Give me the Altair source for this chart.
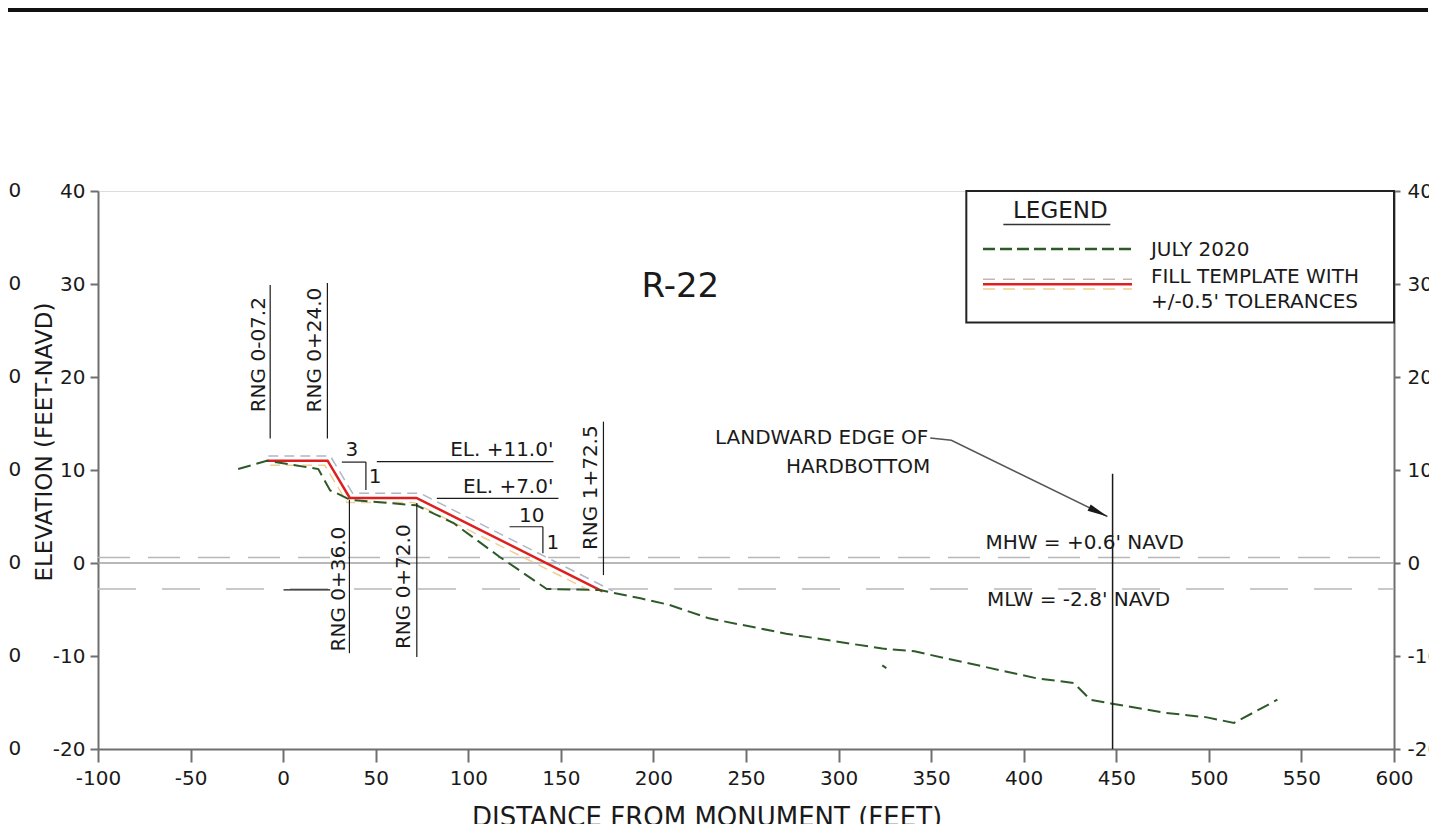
import altair as alt
import pandas as pd

# ---------------- data ----------------
X_DOMAIN = [-100, 600]
Y_DOMAIN = [-20, 40]
X_TICKS = list(range(-100, 601, 50))
Y_TICKS = list(range(-20, 41, 10))

# July 2020 survey profile (distance ft, elevation ft)
survey_x = [-24.3, -8.8, 19.0, 25.4, 28.0, 36.0, 72.0, 92.0, 117.0, 142.4, 171.0, 193.0,
            208.5, 230.0, 271.7, 323.6, 341.0, 407.0, 427.0, 436.0, 447.0, 476.0, 499.0,
            513.6, 537.0]
survey_y = [10.1, 11.0, 10.1, 7.8, 7.6, 6.8, 6.2, 4.3, 0.65, -2.8, -2.9, -3.8,
            -4.5, -5.95, -7.6, -9.2, -9.5, -12.4, -12.9, -14.7, -15.1, -16.1, -16.6,
            -17.2, -14.7]
stray_x = [323.6, 325.8]
stray_y = [-11.0, -11.3]

# Fill template and +/-0.5' tolerances
template_x = [-8.8, 24.0, 36.0, 72.0, 172.5]
template_y = [11.0, 11.0, 7.0, 7.0, -3.05]
upper_x = [-8.0, 25.5, 37.5, 74.0, 178.0]
upper_y = [11.5, 11.5, 7.5, 7.5, -3.0]
lower_x = [-7.0, 22.5, 34.5, 70.5, 167.0]
lower_y = [10.5, 10.5, 6.5, 6.5, -3.1]

# Tidal datums
datum_zero = 0.0
datum_mhw = 0.6
datum_mlw = -2.8

# Range stations (vertical leader lines + rotated labels)
rng_labels = ["RNG 0-07.2", "RNG 0+24.0", "RNG 0+36.0", "RNG 0+72.0", "RNG 1+72.5"]
rng_x = [-7.0, 23.9, 35.8, 72.2, 173.0]
rng_top = [29.9, 30.1, 6.8, 6.45, 15.2]
rng_bot = [13.4, 13.4, -9.7, -10.1, -1.3]
rng_label_x = [-13.3, 17.3, 29.9, 65.5, 166.4]
rng_label_y = [22.4, 22.9, -2.8, -2.55, 8.1]

# Thin annotation segments
seg_x1 = [31.7, 44.7, 50.6, 83.0, 122.3, 140.3, 0.2]
seg_y1 = [10.85, 10.85, 10.9, 6.95, 3.9, 3.9, -2.9]
seg_x2 = [44.7, 44.7, 146.0, 148.7, 140.3, 140.3, 25.4]
seg_y2 = [10.85, 7.85, 10.9, 6.95, 3.9, 1.05, -2.9]

# Hardbottom
hb_x = 448.0
hb_top = 9.6
hb_bot = -20.0
leader_x = [349.5, 360.9, 445.2]
leader_y = [13.44, 13.2, 5.0]
arrow_x = [440.3]
arrow_y = [5.47]

# Text annotations
center_text = ["3", "1", "10", "1"]
center_x = [37.1, 49.7, 134.3, 145.7]
center_y = [12.15, 9.2, 5.05, 2.2]
right_text = ["EL. +11.0'", "EL. +7.0'", "LANDWARD EDGE OF", "HARDBOTTOM"]
right_x = [146.0, 146.0, 348.5, 349.5]
right_y = [12.15, 8.2, 13.44, 10.3]
left_text = ["MHW = +0.6' NAVD", "MLW = -2.8' NAVD"]
left_x = [379.3, 380.2]
left_y = [2.18, -3.98]

title_text = "R-22"
title_x = 214.5
title_y = 29.7

# Legend
legend_box = [369.0, 25.85, 600.0, 40.0]
legend_title = "LEGEND"
legend_title_xy = [419.8, 37.8]
legend_underline = [389.0, 446.8, 36.4]
legend_labels = ["JULY 2020", "FILL TEMPLATE WITH", "+/-0.5' TOLERANCES"]
legend_label_x = 468.7
legend_label_y = [33.66, 30.8, 28.1]
legend_sample_x = [378.0, 458.5]
legend_green_y = 33.76
legend_red_y = 29.97
legend_up_y = 30.5
legend_lo_y = 29.46

# Axis titles and clipped neighbouring axis labels
ytitle = "ELEVATION (FEET-NAVD)"
ytitle_xy = [-128.6, 13.0]
xtitle = "DISTANCE FROM MONUMENT (FEET)"
xtitle_xy = [229.0, -26.0]
clipped_label_x = -141.5

# ---------------- styling ----------------
FONT = "DejaVu Sans"
INK = "#1a1a1a"
GREEN = "#2e5a2a"
RED = "#dd1f1f"
TOL_UP = "#aeb6c8"
TOL_LO = "#f0cf94"
DATUM = "#b8b8b8"
FRAME = "#6f6f6f"

xs = alt.Scale(domain=X_DOMAIN, nice=False, zero=False)
ys = alt.Scale(domain=Y_DOMAIN, nice=False, zero=False)
LABEL_EXPR = "'' + datum.value"


def X(f="x", axis=None):
    if axis is None:
        return alt.X(f"{f}:Q", scale=xs)
    return alt.X(f"{f}:Q", scale=xs, axis=axis)


def Y(f="y", axis=None):
    return alt.Y(f"{f}:Q", scale=ys, axis=axis)


def line_df(xv, yv):
    return pd.DataFrame({"x": xv, "y": yv, "i": list(range(len(xv)))})


def axis(orient, tick, pad, vals):
    return alt.Axis(values=vals, title=None, grid=False, orient=orient, labelFont=FONT,
                    labelFontSize=20, labelColor=INK, tickSize=tick, tickColor=FRAME,
                    tickWidth=2, domainColor=FRAME, domainWidth=2, labelPadding=pad,
                    labelFlush=False, labelOverlap=False, labelExpr=LABEL_EXPR)


layers = []

# invisible axis carriers
frame_df = pd.DataFrame({"x": X_DOMAIN, "y": Y_DOMAIN})
layers.append(alt.Chart(frame_df).mark_point(opacity=0)
              .encode(x=X("x", axis("bottom", 13, 6, X_TICKS)),
                      y=Y("y", axis("left", 8, 5, Y_TICKS))))
layers.append(alt.Chart(frame_df).mark_point(opacity=0)
              .encode(x=X("x"), y=Y("y", axis("right", 6, 7, Y_TICKS))))

# datum lines
layers.append(alt.Chart(pd.DataFrame({"y": [datum_zero]}))
              .mark_rule(color="#a0a0a0", strokeWidth=1.5)
              .encode(y=Y(), x=alt.value(0), x2=alt.value(1296)))
layers.append(alt.Chart(pd.DataFrame({"y": [datum_mhw]}))
              .mark_rule(color=DATUM, strokeWidth=1.5, strokeDash=[32, 18])
              .encode(y=Y(), x=alt.value(0), x2=alt.value(1296)))
layers.append(alt.Chart(pd.DataFrame({"y": [datum_mlw]}))
              .mark_rule(color=DATUM, strokeWidth=1.5, strokeDash=[38, 26])
              .encode(y=Y(), x=alt.value(0), x2=alt.value(1296)))

# tolerance lines
layers.append(alt.Chart(line_df(upper_x, upper_y))
              .mark_line(color=TOL_UP, strokeWidth=1.5, strokeDash=[10, 6])
              .encode(x=X(), y=Y(), order="i:Q"))
layers.append(alt.Chart(line_df(lower_x, lower_y))
              .mark_line(color=TOL_LO, strokeWidth=1.5, strokeDash=[10, 6])
              .encode(x=X(), y=Y(), order="i:Q"))
# fill template
layers.append(alt.Chart(line_df(template_x, template_y)).mark_line(color=RED, strokeWidth=2.5)
              .encode(x=X(), y=Y(), order="i:Q"))
# survey
layers.append(alt.Chart(line_df(survey_x, survey_y))
              .mark_line(color=GREEN, strokeWidth=2, strokeDash=[13, 6])
              .encode(x=X(), y=Y(), order="i:Q"))
layers.append(alt.Chart(line_df(stray_x, stray_y)).mark_line(color=GREEN, strokeWidth=2)
              .encode(x=X(), y=Y(), order="i:Q"))

# range station lines
rng = pd.DataFrame({"x": rng_x, "y": rng_top, "y2": rng_bot, "label": rng_labels,
                    "lx": rng_label_x, "ly": rng_label_y})
layers.append(alt.Chart(rng).mark_rule(color=INK, strokeWidth=1.2)
              .encode(x=X(), y=Y(), y2="y2:Q"))
layers.append(alt.Chart(rng).mark_text(font=FONT, fontSize=20, color=INK, angle=270,
                                       align="center", baseline="middle")
              .encode(x=X("lx"), y=Y("ly"), text="label:N"))

# thin segments
segs = pd.DataFrame({"x": seg_x1, "y": seg_y1, "x2": seg_x2, "y2": seg_y2})
layers.append(alt.Chart(segs).mark_rule(color=INK, strokeWidth=1.2)
              .encode(x=X(), y=Y(), x2="x2:Q", y2="y2:Q"))

# hardbottom line and leader
hb = pd.DataFrame({"x": [hb_x], "y": [hb_top], "y2": [hb_bot]})
layers.append(alt.Chart(hb).mark_rule(color=INK, strokeWidth=1.5)
              .encode(x=X(), y=Y(), y2="y2:Q"))
layers.append(alt.Chart(line_df(leader_x, leader_y)).mark_line(color="#555555", strokeWidth=1.5)
              .encode(x=X(), y=Y(), order="i:Q"))
layers.append(alt.Chart(pd.DataFrame({"x": arrow_x, "y": arrow_y}))
              .mark_point(shape="M 1 0 L -1 -0.35 L -1 0.35 Z", size=420, filled=True,
                          color=INK, opacity=1, angle=26)
              .encode(x=X(), y=Y()))

# texts
layers.append(alt.Chart(pd.DataFrame({"x": center_x, "y": center_y, "t": center_text}))
              .mark_text(font=FONT, fontSize=20, color=INK, align="center", baseline="middle")
              .encode(x=X(), y=Y(), text="t:N"))
layers.append(alt.Chart(pd.DataFrame({"x": right_x, "y": right_y, "t": right_text}))
              .mark_text(font=FONT, fontSize=20, color=INK, align="right", baseline="middle")
              .encode(x=X(), y=Y(), text="t:N"))
layers.append(alt.Chart(pd.DataFrame({"x": left_x, "y": left_y, "t": left_text}))
              .mark_text(font=FONT, fontSize=20, color=INK, align="left", baseline="middle")
              .encode(x=X(), y=Y(), text="t:N"))
layers.append(alt.Chart(pd.DataFrame({"x": [title_x], "y": [title_y], "t": [title_text]}))
              .mark_text(font=FONT, fontSize=34, color=INK, align="center", baseline="middle")
              .encode(x=X(), y=Y(), text="t:N"))

# legend box
lb = pd.DataFrame({"x": [legend_box[0]], "y": [legend_box[1]],
                   "x2": [legend_box[2]], "y2": [legend_box[3]]})
layers.append(alt.Chart(lb).mark_rect(fill="white", stroke="#222222", strokeWidth=2)
              .encode(x=X(), y=Y(), x2="x2:Q", y2="y2:Q"))
layers.append(alt.Chart(pd.DataFrame({"x": [legend_title_xy[0]], "y": [legend_title_xy[1]],
                                      "t": [legend_title]}))
              .mark_text(font=FONT, fontSize=23, color=INK, align="center", baseline="middle")
              .encode(x=X(), y=Y(), text="t:N"))
layers.append(alt.Chart(pd.DataFrame({"x": [legend_underline[0]], "x2": [legend_underline[1]],
                                      "y": [legend_underline[2]]}))
              .mark_rule(color="#333333", strokeWidth=1.5)
              .encode(x=X(), y=Y(), x2="x2:Q"))


def samp(yv):
    return pd.DataFrame({"x": [legend_sample_x[0]], "x2": [legend_sample_x[1]], "y": [yv]})


layers.append(alt.Chart(samp(legend_green_y))
              .mark_rule(color=GREEN, strokeWidth=2.5, strokeDash=[12, 5])
              .encode(x=X(), x2="x2:Q", y=Y()))
layers.append(alt.Chart(samp(legend_up_y))
              .mark_rule(color="#c9b3b3", strokeWidth=1.5, strokeDash=[12, 8])
              .encode(x=X(), x2="x2:Q", y=Y()))
layers.append(alt.Chart(samp(legend_lo_y))
              .mark_rule(color=TOL_LO, strokeWidth=1.5, strokeDash=[12, 8])
              .encode(x=X(), x2="x2:Q", y=Y()))
layers.append(alt.Chart(samp(legend_red_y)).mark_rule(color=RED, strokeWidth=2.5)
              .encode(x=X(), x2="x2:Q", y=Y()))
layers.append(alt.Chart(pd.DataFrame({"x": [legend_label_x] * 3, "y": legend_label_y,
                                      "t": legend_labels}))
              .mark_text(font=FONT, fontSize=20, color=INK, align="left", baseline="middle")
              .encode(x=X(), y=Y(), text="t:N"))

# axis titles and clipped neighbouring labels
layers.append(alt.Chart(pd.DataFrame({"x": [ytitle_xy[0]], "y": [ytitle_xy[1]], "t": [ytitle]}))
              .mark_text(font=FONT, fontSize=23, color=INK, angle=270, align="center",
                         baseline="middle")
              .encode(x=X(), y=Y(), text="t:N"))
layers.append(alt.Chart(pd.DataFrame({"x": [xtitle_xy[0]], "y": [xtitle_xy[1]], "t": [xtitle]}))
              .mark_text(font=FONT, fontSize=26, color=INK, align="center", baseline="top")
              .encode(x=X(), y=Y(), text="t:N"))
layers.append(alt.Chart(pd.DataFrame({"x": [clipped_label_x] * len(Y_TICKS), "y": Y_TICKS,
                                      "t": [str(v) for v in Y_TICKS]}))
              .mark_text(font=FONT, fontSize=20, color=INK, align="right", baseline="middle")
              .encode(x=X(), y=Y(), text="t:N"))

# scanned sheet border at top
layers.append(alt.Chart(pd.DataFrame({"k": [0]})).mark_rule(color="#111111", strokeWidth=4)
              .encode(x=alt.value(-92), x2=alt.value(1330), y=alt.value(-181)))

chart = (alt.layer(*layers)
         .resolve_axis(y="independent")
         .properties(width=1296, height=558,
                     padding={"left": 90, "top": 183, "right": 35, "bottom": 75},
                     autosize=alt.AutoSizeParams(type="none"))
         .configure_view(stroke=FRAME, strokeWidth=2)
         .configure(background="white"))

chart.save("out.html", embed_options={"renderer": "svg", "actions": False})
